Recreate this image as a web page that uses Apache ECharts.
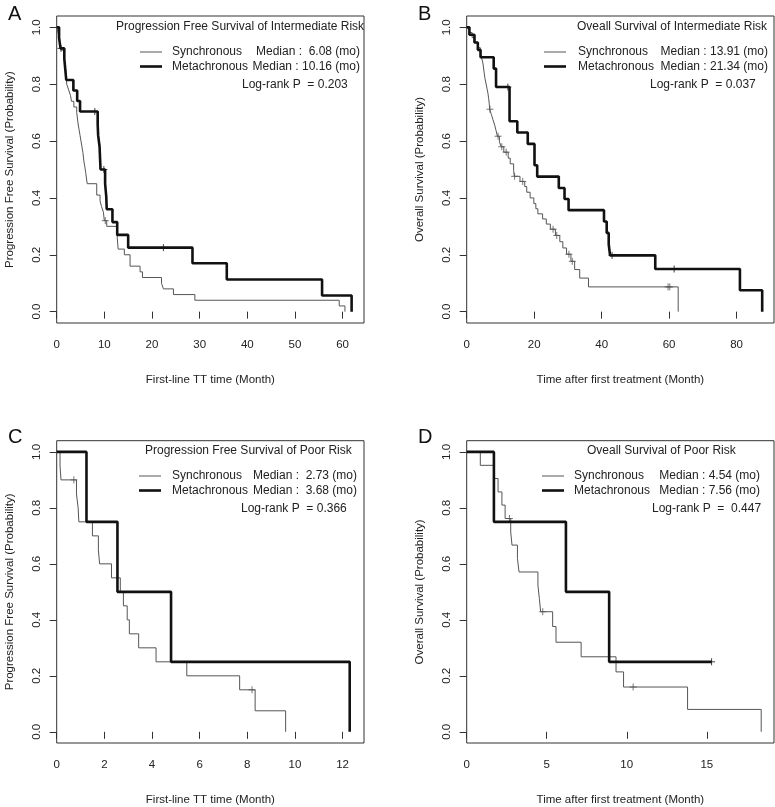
<!DOCTYPE html>
<html>
<head>
<meta charset="utf-8">
<script src="https://cdn.jsdelivr.net/npm/echarts/dist/echarts.min.js"></script>
<style>
  html, body { margin: 0; padding: 0; background: #fff; }
  #chart { width: 775px; height: 807px; }
</style>
</head>
<body>
<div id="chart"></div>
<script>
// ---- data (time in months, survival probability) ----
// A: progression free survival, intermediate risk
var syncA_t = [0, 0.3, 0.5, 0.7, 0.9, 1.6, 1.8, 2.0, 2.1, 2.5, 2.9, 3.1, 3.6, 4.2, 4.5, 4.7, 4.9, 5.1, 5.3, 5.5, 5.7, 5.9, 6.08, 6.4, 8.4, 9.1, 9.4, 9.8, 10.0, 10.5, 12.7, 12.9, 14.2, 15.4, 17.5, 18.0, 22.0, 22.4, 24.5, 29.0, 59.3, 60.5];
var syncA_s = [1, 0.98, 0.96, 0.94, 0.92, 0.88, 0.86, 0.84, 0.80, 0.78, 0.76, 0.74, 0.72, 0.70, 0.66, 0.64, 0.62, 0.60, 0.58, 0.56, 0.53, 0.51, 0.49, 0.45, 0.41, 0.39, 0.37, 0.35, 0.32, 0.30, 0.26, 0.22, 0.20, 0.16, 0.14, 0.12, 0.10, 0.08, 0.06, 0.04, 0.02, 0];
var syncA_cens = [10.2];
var metaA_t = [0, 0.5, 0.8, 1.6, 1.8, 2.0, 3.5, 4.3, 4.9, 8.6, 8.7, 9.0, 9.1, 9.2, 10.16, 10.4, 10.5, 11.7, 12.7, 15.0, 28.5, 35.7, 55.7, 61.9];
var metaA_s = [1, 0.963, 0.926, 0.889, 0.852, 0.815, 0.778, 0.741, 0.704, 0.66, 0.62, 0.58, 0.54, 0.50, 0.45, 0.405, 0.36, 0.315, 0.27, 0.225, 0.17, 0.113, 0.057, 0];
var metaA_cens = [0.9, 8.0, 9.9, 22.4];

// B: overall survival, intermediate risk
var syncB_t = [0, 0.8, 1.6, 2.4, 3.3, 4.0, 4.4, 4.8, 5.0, 5.2, 5.4, 5.7, 6.0, 6.3, 6.5, 6.7, 6.8, 7.3, 7.8, 8.3, 8.7, 9.1, 9.7, 10.2, 11.0, 12.3, 12.9, 13.91, 14.1, 15.8, 17.2, 17.8, 18.8, 19.9, 20.5, 21.1, 22.5, 23.6, 24.8, 26.3, 27.6, 28.5, 29.6, 30.9, 32.0, 33.5, 36.1, 62.7];
var syncB_s = [1, 0.982, 0.964, 0.946, 0.929, 0.911, 0.893, 0.875, 0.857, 0.839, 0.821, 0.804, 0.786, 0.768, 0.75, 0.73, 0.712, 0.694, 0.675, 0.656, 0.637, 0.617, 0.598, 0.58, 0.561, 0.54, 0.52, 0.497, 0.476, 0.458, 0.44, 0.42, 0.40, 0.38, 0.362, 0.344, 0.326, 0.308, 0.29, 0.268, 0.246, 0.224, 0.202, 0.177, 0.148, 0.118, 0.087, 0];
var syncB_cens = [6.9, 9.3, 10.4, 11.7, 14.2, 16.6, 25.6, 26.7, 30.3, 31.3, 59.7, 60.2];
var metaB_t = [0, 0.8, 2.3, 3.3, 4.1, 8.0, 8.7, 12.7, 15.0, 18.1, 20.1, 20.9, 27.3, 29.0, 30.2, 40.7, 41.5, 42.1, 42.5, 55.9, 81.0, 87.6];
var metaB_s = [1, 0.974, 0.947, 0.921, 0.895, 0.855, 0.79, 0.67, 0.63, 0.59, 0.515, 0.475, 0.435, 0.396, 0.357, 0.317, 0.277, 0.237, 0.198, 0.15, 0.075, 0];
var metaB_cens = [12.2, 43.1, 61.5];

// C: progression free survival, poor risk
var syncC_t = [0, 0.14, 0.18, 0.83, 0.9, 0.93, 1.5, 1.75, 1.8, 2.3, 2.67, 2.8, 2.96, 3.05, 3.44, 4.17, 5.46, 7.68, 8.33, 9.61];
var syncC_s = [1, 0.95, 0.9, 0.85, 0.8, 0.75, 0.7, 0.65, 0.6, 0.55, 0.5, 0.45, 0.4, 0.35, 0.3, 0.25, 0.2, 0.15, 0.075, 0];
var syncC_cens = [0.72, 8.2];
var metaC_t = [0, 1.25, 2.55, 4.8, 12.3];
var metaC_s = [1, 0.75, 0.5, 0.25, 0];
var metaC_cens = [];

// D: overall survival, poor risk
var syncD_t = [0, 0.85, 1.7, 1.96, 2.2, 2.4, 2.75, 2.83, 3.17, 3.27, 4.45, 4.54, 4.62, 5.37, 5.58, 7.15, 9.33, 9.8, 13.8, 18.4];
var syncD_s = [1, 0.952, 0.905, 0.857, 0.81, 0.762, 0.714, 0.667, 0.619, 0.571, 0.524, 0.476, 0.429, 0.376, 0.32, 0.268, 0.214, 0.16, 0.08, 0];
var syncD_cens = [2.67, 4.75, 10.4];
var metaD_t = [0, 1.7, 6.2, 8.9, 15.3];
var metaD_s = [1, 0.75, 0.5, 0.25, 0.25];
var metaD_cens = [15.3];

// axes
var xMaxA = 64.5, xMaxB = 91.1, xMaxC = 12.9, xMaxD = 19.2;
var xTicksA = [0, 10, 20, 30, 40, 50, 60];
var xTicksB = [0, 20, 40, 60, 80];
var xTicksC = [0, 2, 4, 6, 8, 10, 12];
var xTicksD = [0, 5, 10, 15];
var yTicks = [0, 0.2, 0.4, 0.6, 0.8, 1.0];

var titles = ['Progression Free Survival of Intermediate Risk', 'Oveall Survival of Intermediate Risk',
              'Progression Free Survival of Poor Risk', 'Oveall Survival of Poor Risk'];
var medSync = ['Median :  6.08 (mo)', 'Median : 13.91 (mo)', 'Median :  2.73 (mo)', 'Median : 4.54 (mo)'];
var medMeta = ['Median : 10.16 (mo)', 'Median : 21.34 (mo)', 'Median :  3.68 (mo)', 'Median : 7.56 (mo)'];
var logrank = ['Log-rank P  = 0.203', 'Log-rank P  = 0.037', 'Log-rank P  = 0.366', 'Log-rank P  =  0.447'];
var xNames = ['First-line TT time (Month)', 'Time after first treatment (Month)',
              'First-line TT time (Month)', 'Time after first treatment (Month)'];
var yNames = ['Progression Free Survival (Probability)', 'Overall Survival (Probability)',
              'Progression Free Survival (Probability)', 'Overall Survival (Probability)'];
var letters = ['A', 'B', 'C', 'D'];

var FONT = '"Liberation Sans", Arial, sans-serif';
var INK = '#222';

function km(t, s) {
  return t.map(function (v, i) { return [v, s[i]]; });
}
function survAt(t, s, x) {
  var v = 1;
  for (var i = 0; i < t.length; i++) { if (t[i] <= x) v = s[i]; }
  return v;
}
function cens(t, s, c) {
  return c.map(function (x) { return [x, survAt(t, s, x)]; });
}

var panels = [
  { left: 56.7, top: 16, xMax: xMaxA, ticks: xTicksA, sync: [syncA_t, syncA_s, syncA_cens], meta: [metaA_t, metaA_s, metaA_cens] },
  { left: 466.7, top: 16, xMax: xMaxB, ticks: xTicksB, sync: [syncB_t, syncB_s, syncB_cens], meta: [metaB_t, metaB_s, metaB_cens] },
  { left: 56.7, top: 440.7, xMax: xMaxC, ticks: xTicksC, sync: [syncC_t, syncC_s, syncC_cens], meta: [metaC_t, metaC_s, metaC_cens] },
  { left: 466.7, top: 440.7, xMax: xMaxD, ticks: xTicksD, sync: [syncD_t, syncD_s, syncD_cens], meta: [metaD_t, metaD_s, metaD_cens] }
];

var grids = [], xAxes = [], yAxes = [], series = [], graphics = [];
var plus = 'path://M0,5L10,5M5,0L5,10';

panels.forEach(function (p, i) {
  grids.push({ left: p.left, top: p.top, width: 307.3, height: 307, show: true,
               borderColor: '#333', borderWidth: 1, backgroundColor: 'transparent' });
  xAxes.push({
    gridIndex: i, type: 'value', min: 0, max: p.xMax,
    axisLine: { show: false },
    axisTick: { show: true, length: 7, customValues: p.ticks, lineStyle: { color: '#333' } },
    axisLabel: { customValues: p.ticks, margin: 16, fontSize: 11.5, color: INK, fontFamily: FONT },
    splitLine: { show: false },
    name: xNames[i], nameLocation: 'middle', nameGap: 51,
    nameTextStyle: { fontSize: 11.5, color: INK, fontFamily: FONT }
  });
  yAxes.push({
    gridIndex: i, type: 'value', min: -0.04, max: 1.04,
    axisLine: { show: false },
    axisTick: { show: true, length: 7, customValues: yTicks, lineStyle: { color: '#333' } },
    axisLabel: { customValues: yTicks, rotate: 90, margin: 14, fontSize: 11.5, color: INK, fontFamily: FONT,
                 formatter: function (v) { return v.toFixed(1); } },
    splitLine: { show: false },
    name: yNames[i], nameLocation: 'middle', nameRotate: 90, nameGap: 41,
    nameTextStyle: { fontSize: 11.5, color: INK, fontFamily: FONT }
  });

  series.push({ type: 'line', xAxisIndex: i, yAxisIndex: i, step: 'end', showSymbol: false, silent: true,
                data: km(p.sync[0], p.sync[1]), lineStyle: { color: '#555', width: 1 } });
  series.push({ type: 'line', xAxisIndex: i, yAxisIndex: i, step: 'end', showSymbol: false, silent: true,
                data: km(p.meta[0], p.meta[1]), lineStyle: { color: '#111', width: 2.6 } });
  series.push({ type: 'scatter', xAxisIndex: i, yAxisIndex: i, symbol: plus, symbolSize: 7, silent: true,
                data: cens(p.sync[0], p.sync[1], p.sync[2]),
                itemStyle: { color: 'none', borderColor: '#555', borderWidth: 1 } });
  series.push({ type: 'scatter', xAxisIndex: i, yAxisIndex: i, symbol: plus, symbolSize: 7, silent: true,
                data: cens(p.meta[0], p.meta[1], p.meta[2]),
                itemStyle: { color: 'none', borderColor: '#111', borderWidth: 1 } });
});

// legend boxes and panel letters
var legendPos = [
  { tx: 116, lx: 140, sx: 172, mx: 360, px: 242, y: 28 },
  { tx: 577, lx: 544, sx: 578, mx: 768, px: 650, y: 28 },
  { tx: 145, lx: 139, sx: 172, mx: 357, px: 241, y: 452 },
  { tx: 587, lx: 542, sx: 574, mx: 760, px: 652, y: 452 }
];
var letterPos = [[8, 4], [418, 4], [8, 427], [418, 427]];

legendPos.forEach(function (L, i) {
  var ts = { fontSize: 12, fill: INK, fontFamily: FONT, textVerticalAlign: 'middle' };
  graphics.push({ type: 'text', left: L.tx, top: L.y - 7, style: Object.assign({ text: titles[i] }, ts) });
  graphics.push({ type: 'line', shape: { x1: L.lx, y1: L.y + 24, x2: L.lx + 22, y2: L.y + 24 }, style: { stroke: '#555', lineWidth: 1 } });
  graphics.push({ type: 'line', shape: { x1: L.lx, y1: L.y + 38.5, x2: L.lx + 22, y2: L.y + 38.5 }, style: { stroke: '#111', lineWidth: 2.6 } });
  graphics.push({ type: 'text', x: L.sx, y: L.y + 24, style: Object.assign({ text: 'Synchronous', textAlign: 'left' }, ts) });
  graphics.push({ type: 'text', x: L.sx, y: L.y + 38.5, style: Object.assign({ text: 'Metachronous', textAlign: 'left' }, ts) });
  graphics.push({ type: 'text', x: L.mx, y: L.y + 24, style: Object.assign({ text: medSync[i], textAlign: 'right' }, ts) });
  graphics.push({ type: 'text', x: L.mx, y: L.y + 38.5, style: Object.assign({ text: medMeta[i], textAlign: 'right' }, ts) });
  graphics.push({ type: 'text', x: L.px, y: L.y + 57, style: Object.assign({ text: logrank[i], textAlign: 'left' }, ts) });
  graphics.push({ type: 'text', left: letterPos[i][0], top: letterPos[i][1],
                  style: { text: letters[i], fontSize: 20, fill: '#111', fontFamily: FONT } });
});

var myChart = echarts.init(document.getElementById('chart'), null, { renderer: 'canvas' });
myChart.setOption({
  backgroundColor: '#fff',
  animation: false,
  grid: grids,
  xAxis: xAxes,
  yAxis: yAxes,
  series: series,
  graphic: graphics
});
</script>
</body>
</html>
